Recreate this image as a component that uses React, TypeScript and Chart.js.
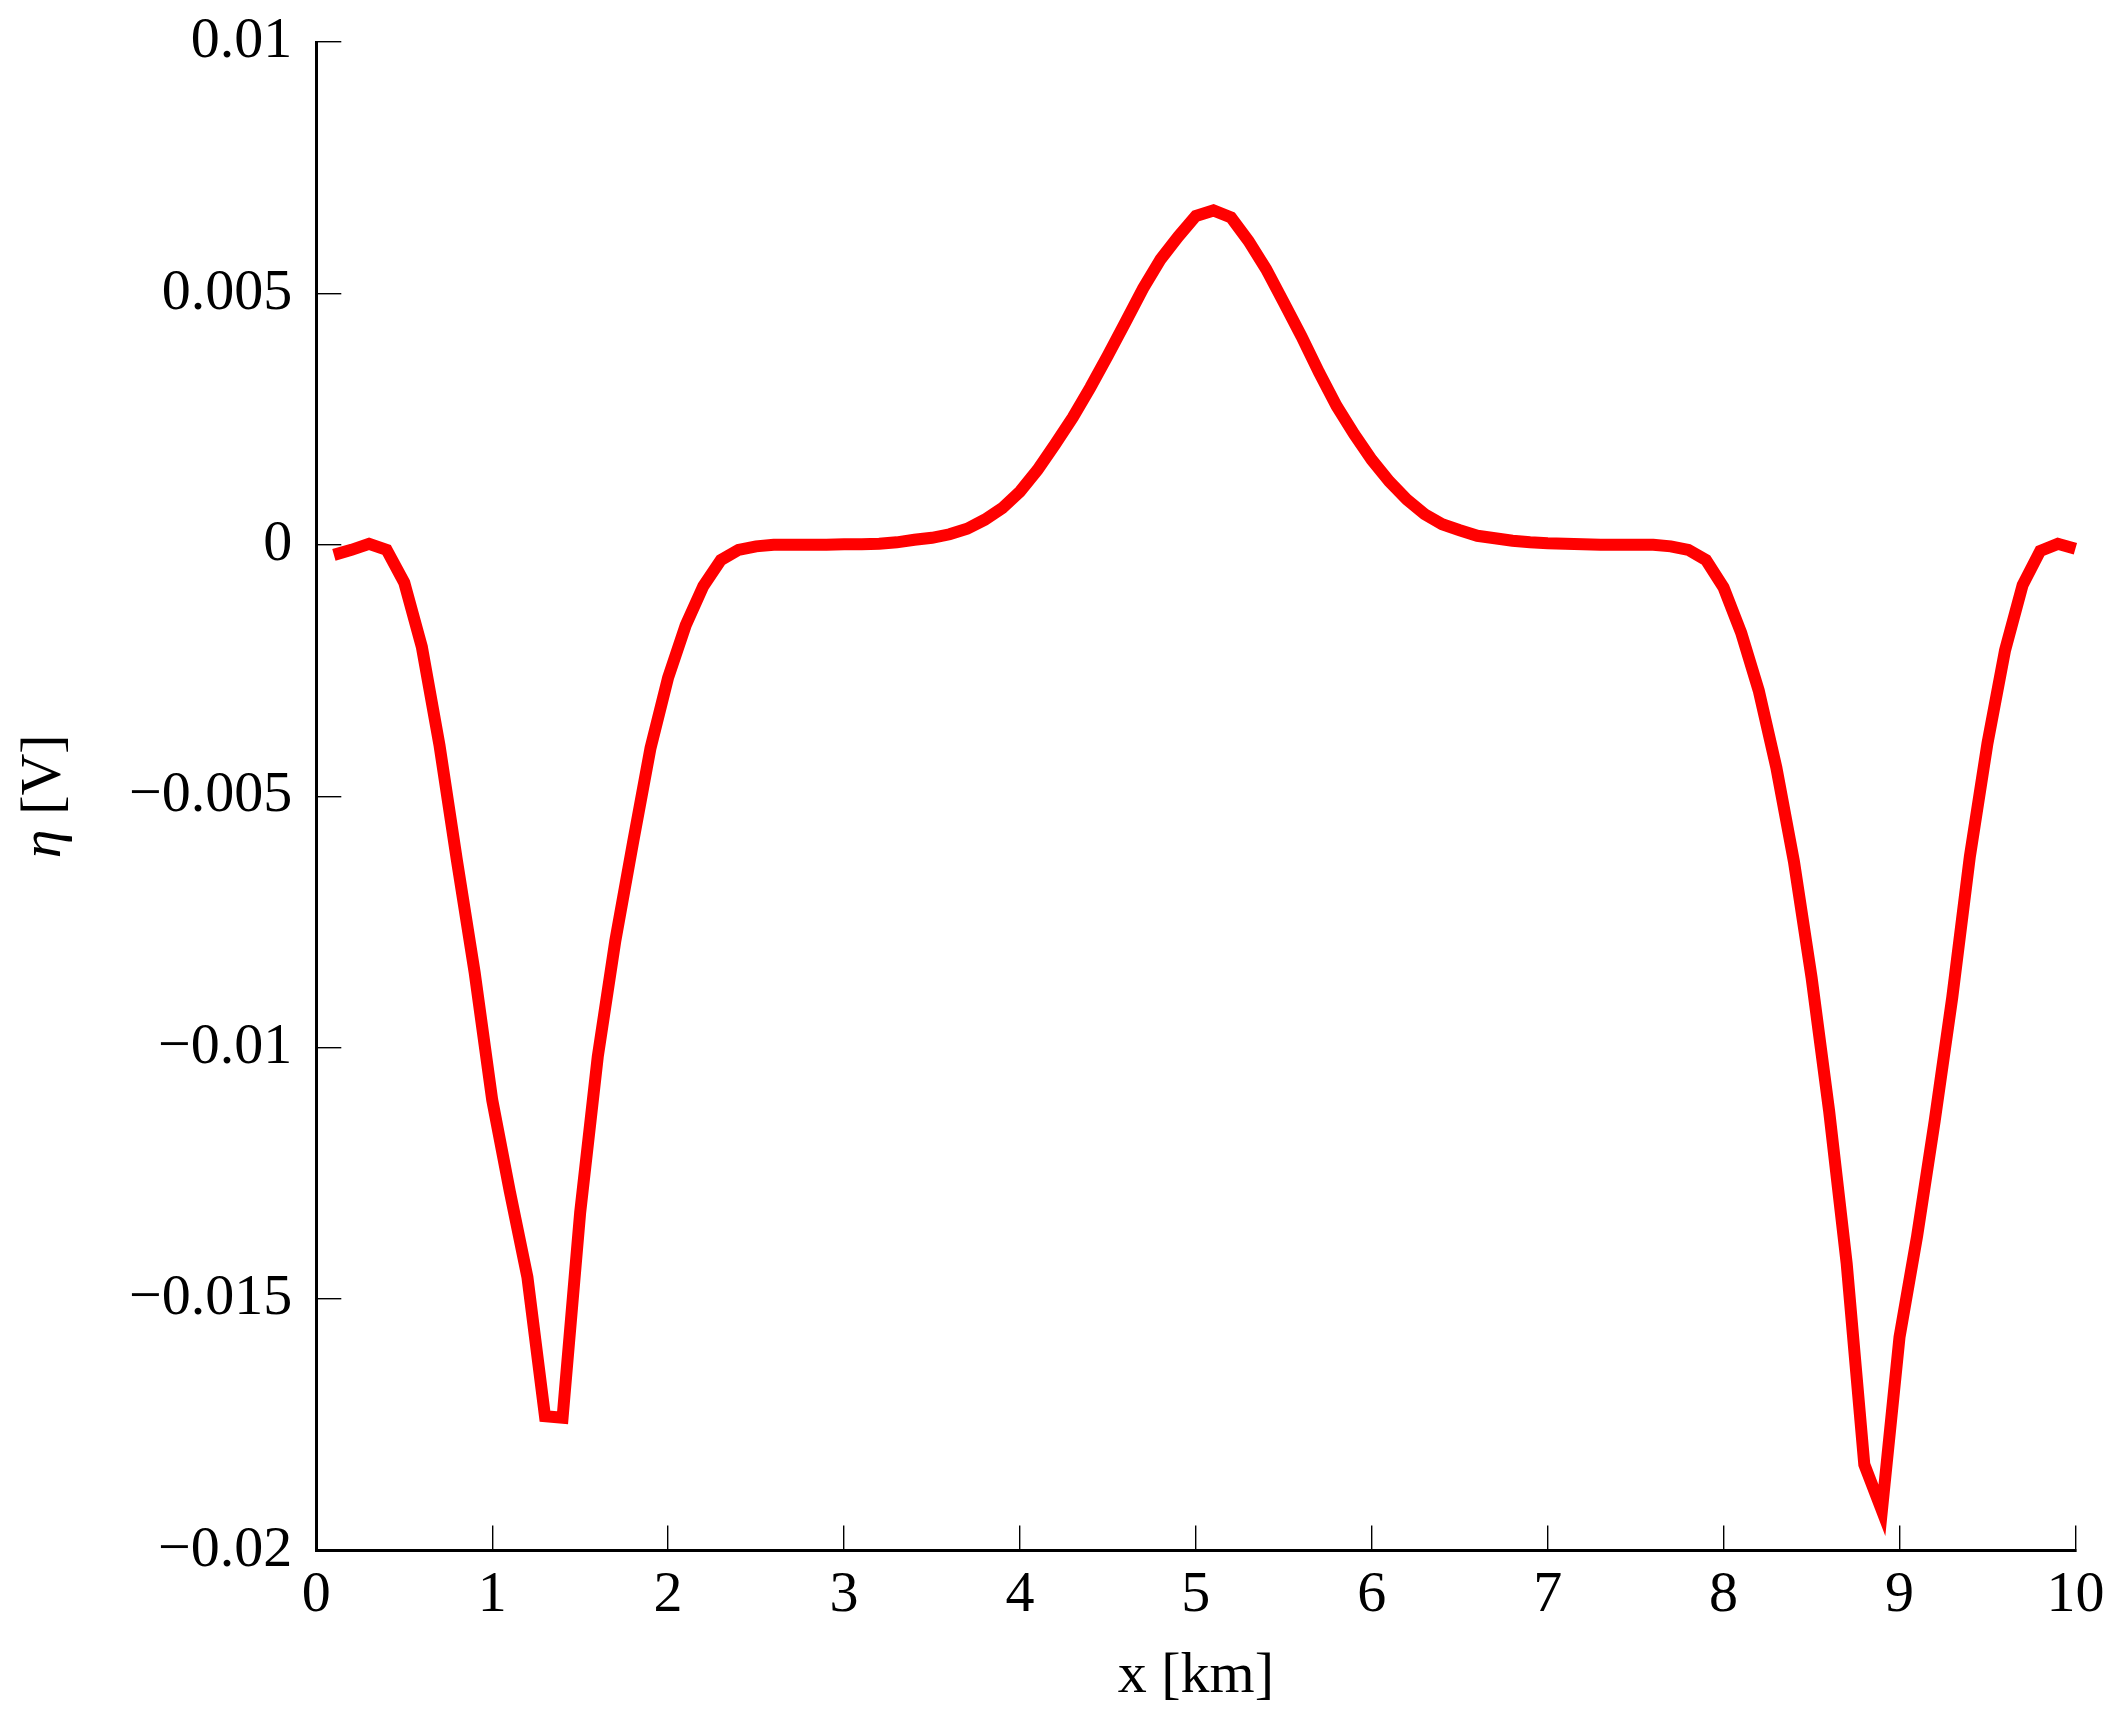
import React, { useEffect, useRef } from "react";
import { Chart, registerables } from "chart.js";

Chart.register(...registerables);

// ---- data ----
const xKm: number[] = [
  0.1, 0.2, 0.3, 0.4, 0.5, 0.6, 0.7, 0.8, 0.9, 1.0,
  1.1, 1.2, 1.3, 1.4, 1.5, 1.6, 1.7, 1.8, 1.9, 2.0,
  2.1, 2.2, 2.3, 2.4, 2.5, 2.6, 2.7, 2.8, 2.9, 3.0,
  3.1, 3.2, 3.3, 3.4, 3.5, 3.6, 3.7, 3.8, 3.9, 4.0,
  4.1, 4.2, 4.3, 4.4, 4.5, 4.6, 4.7, 4.8, 4.9, 5.0,
  5.1, 5.2, 5.3, 5.4, 5.5, 5.6, 5.7, 5.8, 5.9, 6.0,
  6.1, 6.2, 6.3, 6.4, 6.5, 6.6, 6.7, 6.8, 6.9, 7.0,
  7.1, 7.2, 7.3, 7.4, 7.5, 7.6, 7.7, 7.8, 7.9, 8.0,
  8.1, 8.2, 8.3, 8.4, 8.5, 8.6, 8.7, 8.8, 8.9, 9.0,
  9.1, 9.2, 9.3, 9.4, 9.5, 9.6, 9.7, 9.8, 9.9, 10.0,
];

const etaV: number[] = [
  -0.0002, -0.0001, 0.00002, -0.0001, -0.00075, -0.00203, -0.00398, -0.00629, -0.0085, -0.01104,
  -0.01286, -0.01456, -0.01733, -0.01736, -0.01328, -0.01018, -0.00787, -0.00593, -0.00404, -0.00264,
  -0.0016, -0.00082, -0.0003, -0.0001, -0.00003, 0, 0, 0, 0, 0.00001,
  0.00001, 0.00002, 0.00005, 0.0001, 0.00014, 0.00021, 0.00032, 0.0005, 0.00073, 0.00106,
  0.00149, 0.002, 0.00253, 0.00313, 0.00377, 0.00443, 0.0051, 0.00568, 0.00613, 0.00654,
  0.00665, 0.00651, 0.00604, 0.00548, 0.00482, 0.00415, 0.00343, 0.00276, 0.0022, 0.00169,
  0.00126, 0.0009, 0.00061, 0.00041, 0.00029, 0.00018, 0.00013, 0.00008, 0.00005, 0.00003,
  0.00002, 0.00001, 0, 0, 0, 0, -0.00003, -0.0001, -0.0003, -0.00085,
  -0.00175, -0.0029, -0.00443, -0.0063, -0.0086, -0.01126, -0.0143, -0.01829, -0.0192, -0.01576,
  -0.01375, -0.01146, -0.009, -0.0062, -0.00395, -0.0021, -0.0008, -0.00012, 0.00002, -0.00008,
];

const xTickValues: number[] = [0, 1, 2, 3, 4, 5, 6, 7, 8, 9, 10];
const xTickLabels: string[] = ["0", "1", "2", "3", "4", "5", "6", "7", "8", "9", "10"];
const yTickValues: number[] = [-0.02, -0.015, -0.01, -0.005, 0, 0.005, 0.01];
const yTickLabels: string[] = ["\u22120.02", "\u22120.015", "\u22120.01", "\u22120.005", "0", "0.005", "0.01"];

const xTitle = "x [km]";
const yTitleSymbol = "\u03b7";
const yTitleUnit = " [V]";

const FONT_FAMILY = '"Liberation Serif", "DejaVu Serif", serif';
const FONT_SIZE = 58;

function labelFor(values: number[], labels: string[], v: number): string {
  for (let i = 0; i < values.length; i++) {
    if (Math.abs(values[i] - v) < 1e-9) return labels[i];
  }
  return "";
}

const yTitlePlugin = {
  id: "yTitleMixed",
  afterDraw(chart: any) {
    const { ctx, chartArea } = chart;
    ctx.save();
    const cy = (chartArea.top + chartArea.bottom) / 2;
    ctx.translate(60, cy);
    ctx.rotate(-Math.PI / 2);
    ctx.fillStyle = "#000";
    ctx.textBaseline = "alphabetic";
    ctx.textAlign = "left";
    const f1 = `italic ${FONT_SIZE}px ${FONT_FAMILY}`;
    const f2 = `${FONT_SIZE}px ${FONT_FAMILY}`;
    ctx.font = f1;
    const w1 = ctx.measureText(yTitleSymbol).width;
    ctx.font = f2;
    const w2 = ctx.measureText(yTitleUnit).width;
    const x0 = -(w1 + w2) / 2;
    ctx.font = f1;
    ctx.fillText(yTitleSymbol, x0, 0);
    ctx.font = f2;
    ctx.fillText(yTitleUnit, x0 + w1, 0);
    ctx.restore();
  },
};

export default function App() {
  const canvasRef = useRef<HTMLCanvasElement | null>(null);

  useEffect(() => {
    const canvas = canvasRef.current;
    if (!canvas) return;
    const points = xKm.map((x, i) => ({ x, y: etaV[i] }));
    const font = { family: FONT_FAMILY, size: FONT_SIZE, weight: "normal" as const };

    const chart = new Chart(canvas, {
      type: "line",
      data: {
        datasets: [
          {
            data: points,
            borderColor: "#ff0000",
            backgroundColor: "#ff0000",
            borderWidth: 12,
            pointRadius: 0,
            tension: 0,
            fill: false,
            borderJoinStyle: "miter",
            borderCapStyle: "butt",
            clip: false as any,
          },
        ],
      },
      options: {
        animation: false,
        responsive: false,
        devicePixelRatio: 1,
        layout: { autoPadding: false, padding: { top: 42, right: 46.6, left: 0, bottom: 0 } },
        plugins: {
          legend: { display: false },
          tooltip: { enabled: false },
        },
        scales: {
          x: {
            type: "linear",
            min: 0,
            max: 10,
            afterBuildTicks: (scale: any) => {
              scale.ticks = xTickValues.map((v) => ({ value: v }));
            },
            afterFit: (scale: any) => {
              scale.height = 174.5;
              scale.paddingLeft = 0;
              scale.paddingRight = 0;
              scale.paddingTop = 0;
              scale.paddingBottom = 0;
            },
            ticks: {
              color: "#000",
              font,
              padding: 35,
              maxRotation: 0,
              autoSkip: false,
              callback: (v: any) => labelFor(xTickValues, xTickLabels, Number(v)),
            },
            grid: {
              drawOnChartArea: false,
              drawTicks: true,
              tickLength: -25,
              lineWidth: 1.4,
              color: "#000",
            },
            border: { display: true, width: 3, color: "#000" },
            title: {
              display: true,
              text: xTitle,
              color: "#000",
              font,
              padding: { top: 0, bottom: 13 },
            },
          },
          y: {
            type: "linear",
            min: -0.02,
            max: 0.01,
            afterBuildTicks: (scale: any) => {
              scale.ticks = yTickValues.map((v) => ({ value: v }));
            },
            afterFit: (scale: any) => {
              scale.width = 316.3;
              scale.paddingLeft = 0;
              scale.paddingRight = 0;
              scale.paddingTop = 0;
              scale.paddingBottom = 0;
            },
            ticks: {
              color: "#000",
              font,
              padding: 49,
              autoSkip: false,
              callback: (v: any) => labelFor(yTickValues, yTickLabels, Number(v)),
            },
            grid: {
              drawOnChartArea: false,
              drawTicks: true,
              tickLength: -25,
              lineWidth: 1.4,
              color: "#000",
            },
            border: { display: true, width: 3, color: "#000" },
          },
        },
      } as any,
      plugins: [yTitlePlugin],
    });

    return () => {
      chart.destroy();
    };
  }, []);

  return (
    <div style={{ position: "absolute", left: 0, top: 0, width: 2122, height: 1725, background: "#fff" }}>
      <canvas ref={canvasRef} width={2122} height={1725} style={{ display: "block", width: 2122, height: 1725 }} />
    </div>
  );
}
